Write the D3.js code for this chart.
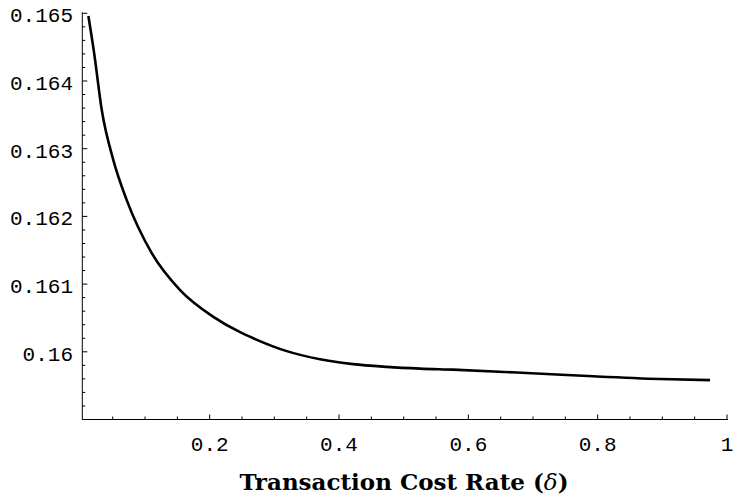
<!DOCTYPE html>
<html>
<head>
<meta charset="utf-8">
<script src="https://cdn.jsdelivr.net/npm/d3@7"></script>
<style>
  body { margin: 0; background: #fff; }
  svg { display: block; }
  .tick-label { font-family: "Liberation Mono", "DejaVu Sans Mono", monospace; font-size: 21px; fill: #000; }
  .axis-title { font-family: "DejaVu Serif", "Liberation Serif", serif; font-weight: bold; font-size: 23px; fill: #000; }
</style>
</head>
<body>
<div id="chart"></div>
<script>
// curve (transaction cost rate -> value)
const rates = [0.0124, 0.0212, 0.0331, 0.0510, 0.0717, 0.1104, 0.1542, 0.2057, 0.2470,
               0.2675, 0.3192, 0.3707, 0.4217, 0.4738, 0.5253, 0.5763, 0.6903, 0.7928,
               0.8964, 0.9737];
const values = [0.16496, 0.164420, 0.163571, 0.162832, 0.162241, 0.161458, 0.160912, 0.160517, 0.160290,
                0.160200, 0.160010, 0.159890, 0.159818, 0.159778, 0.159752, 0.159736, 0.159687, 0.159638,
                0.159598, 0.159582];

const xMajor = [0.2, 0.4, 0.6, 0.8, 1];
const xMajorLabels = ["0.2", "0.4", "0.6", "0.8", "1"];
const xMinor = [0.05, 0.1, 0.15, 0.25, 0.3, 0.35, 0.45, 0.5, 0.55, 0.65, 0.7, 0.75, 0.85, 0.9, 0.95];
const yMajor = [0.16, 0.161, 0.162, 0.163, 0.164, 0.165];
const yMajorLabels = ["0.16", "0.161", "0.162", "0.163", "0.164", "0.165"];
const yMinor = d3.range(0, 31).map(i => +(0.159 + i * 0.0002).toFixed(4))
    .filter(v => !yMajor.some(m => Math.abs(m - v) < 1e-9));

const width = 733, height = 503;

const svg = d3.select("#chart").append("svg")
    .attr("width", width)
    .attr("height", height);

const x = d3.scaleLinear().domain([0.003, 1]).range([82.3, 727]);
const y = d3.scaleLinear().domain([0.159, 0.165]).range([419.5, 13.3]);

const axes = svg.append("g").attr("stroke", "#000").attr("stroke-width", 1);

// axis lines
axes.append("line")
    .attr("x1", x(0.003)).attr("x2", x(1) + 1)
    .attr("y1", y(0.159)).attr("y2", y(0.159));
axes.append("line")
    .attr("x1", x(0.003)).attr("x2", x(0.003))
    .attr("y1", y(0.159)).attr("y2", y(0.165) - 1);

// x ticks, pointing up
axes.selectAll(".xmaj").data(xMajor).enter().append("line")
    .attr("x1", d => x(d)).attr("x2", d => x(d))
    .attr("y1", y(0.159)).attr("y2", y(0.159) - 5);
axes.selectAll(".xmin").data(xMinor).enter().append("line")
    .attr("x1", d => x(d)).attr("x2", d => x(d))
    .attr("y1", y(0.159)).attr("y2", y(0.159) - 3);

// y ticks, pointing right
axes.selectAll(".ymaj").data(yMajor).enter().append("line")
    .attr("x1", x(0.003)).attr("x2", x(0.003) + 5)
    .attr("y1", d => y(d)).attr("y2", d => y(d));
axes.selectAll(".ymin").data(yMinor).enter().append("line")
    .attr("x1", x(0.003)).attr("x2", x(0.003) + 3)
    .attr("y1", d => y(d)).attr("y2", d => y(d));

// tick labels
svg.selectAll(".xlab").data(xMajor).enter().append("text")
    .attr("class", "tick-label")
    .attr("x", d => x(d))
    .attr("y", 451)
    .attr("text-anchor", "middle")
    .text((d, i) => xMajorLabels[i]);

svg.selectAll(".ylab").data(yMajor).enter().append("text")
    .attr("class", "tick-label")
    .attr("x", 73)
    .attr("y", d => y(d) + 9)
    .attr("text-anchor", "end")
    .text((d, i) => yMajorLabels[i]);

// axis title
const title = svg.append("text")
    .attr("class", "axis-title")
    .attr("x", 404)
    .attr("y", 490)
    .attr("text-anchor", "middle");
title.append("tspan").text("Transaction Cost Rate (");
title.append("tspan").attr("font-style", "italic").attr("font-weight", "normal").text("δ");
title.append("tspan").text(")");

// curve
const line = d3.line()
    .x((d, i) => x(rates[i]))
    .y(d => y(d))
    .curve(d3.curveMonotoneX);

svg.append("path")
    .datum(values)
    .attr("fill", "none")
    .attr("stroke", "#000")
    .attr("stroke-width", 2.6)
    .attr("d", line);
</script>
</body>
</html>
